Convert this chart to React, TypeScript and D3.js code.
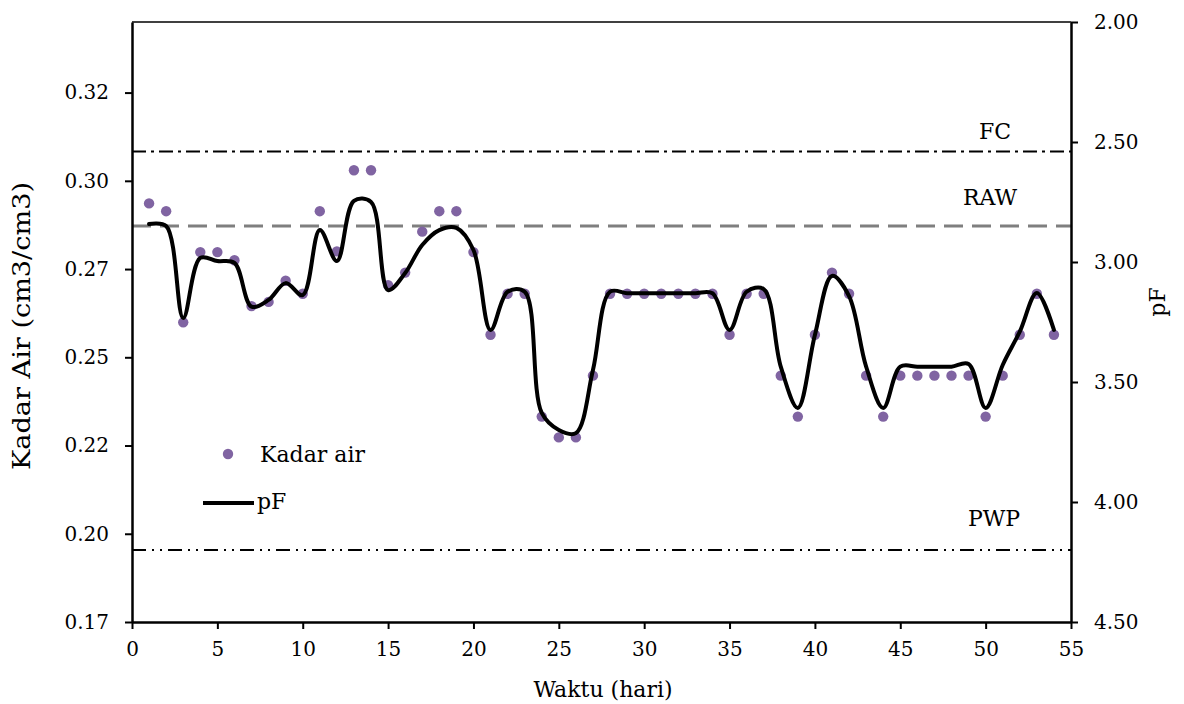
import { useEffect, useRef } from "react";
import * as d3 from "d3";

// hari ke-
const days = [
  1, 2, 3, 4, 5, 6, 7, 8, 9, 10, 11, 12, 13, 14, 15, 16, 17, 18, 19, 20,
  21, 22, 23, 24, 25, 26, 27, 28, 29, 30, 31, 32, 33, 34, 35, 36, 37, 38, 39, 40,
  41, 42, 43, 44, 45, 46, 47, 48, 49, 50, 51, 52, 53, 54,
];

// kadar air (cm3/cm3), sumbu kiri
const kadarAir = [
  0.2886, 0.2864, 0.2549, 0.2748, 0.2748, 0.2725, 0.2595, 0.2607, 0.2667, 0.263,
  0.2864, 0.275, 0.298, 0.298, 0.2654, 0.269, 0.2806, 0.2864, 0.2864, 0.2748,
  0.2514, 0.263, 0.263, 0.2282, 0.2223, 0.2223, 0.2398, 0.263, 0.263, 0.263,
  0.263, 0.263, 0.263, 0.263, 0.2514, 0.263, 0.263, 0.2398, 0.2282, 0.2514,
  0.269, 0.263, 0.2398, 0.2282, 0.2398, 0.2398, 0.2398, 0.2398, 0.2398, 0.2282,
  0.2398, 0.2514, 0.263, 0.2514,
];

// pF, sumbu kanan (terbalik)
const pF = [
  2.842, 2.85, 3.233, 2.983, 2.996, 3.004, 3.186, 3.158, 3.088, 3.138,
  2.867, 2.996, 2.745, 2.75, 3.117, 3.046, 2.929, 2.867, 2.858, 2.95,
  3.283, 3.124, 3.124, 3.629, 3.7, 3.713, 3.45, 3.124, 3.13, 3.13,
  3.13, 3.13, 3.13, 3.13, 3.283, 3.124, 3.113, 3.436, 3.608, 3.304,
  3.058, 3.142, 3.436, 3.608, 3.436, 3.436, 3.436, 3.436, 3.425, 3.608,
  3.429, 3.29, 3.129, 3.283,
];

// batas: FC, RAW, PWP (nilai pF)
const refNames = ["FC", "RAW", "PWP"];
const refValues = [2.54, 2.85, 4.2];

const leftTicks = [0.17, 0.195, 0.22, 0.245, 0.27, 0.295, 0.32];
const leftTickLabels = ["0.17", "0.20", "0.22", "0.25", "0.27", "0.30", "0.32"];
const rightTicks = [2.0, 2.5, 3.0, 3.5, 4.0, 4.5];
const xTicks = [0, 5, 10, 15, 20, 25, 30, 35, 40, 45, 50, 55];

const FONT = "'DejaVu Serif', serif";

export default function App() {
  const svgRef = useRef<SVGSVGElement | null>(null);

  useEffect(() => {
    if (!svgRef.current) return;
    const W = 1184;
    const H = 704;
    const left = 132, right = 1071, top = 22, bottom = 622;

    const svg = d3.select(svgRef.current);
    svg.selectAll("*").remove();
    svg.attr("width", W).attr("height", H);

    const x = d3.scaleLinear().domain([0, 55]).range([left, right]);
    const yL = d3.scaleLinear().domain([0.17, 0.34]).range([bottom, top]);
    const yR = d3.scaleLinear().domain([2, 4.5]).range([top, bottom]);

    svg.append("rect").attr("width", W).attr("height", H).attr("fill", "#fff");

    // top border
    svg.append("line")
      .attr("x1", left).attr("x2", right).attr("y1", top).attr("y2", top)
      .attr("stroke", "#000").attr("stroke-width", 1.5);

    // reference lines
    const dashes = ["14,5,3,5", "19,9", "14,6,2,6,2,6"];
    const colors = ["#000", "#7f7f7f", "#000"];
    const widths = [2, 3, 2];
    refValues.forEach((v, i) => {
      svg.append("line")
        .attr("x1", left).attr("x2", right)
        .attr("y1", yR(v)).attr("y2", yR(v))
        .attr("stroke", colors[i])
        .attr("stroke-width", widths[i])
        .attr("stroke-dasharray", dashes[i]);
    });

    const labelPos = [
      { x: 995, y: 131 },
      { x: 990, y: 197 },
      { x: 994, y: 518 },
    ];
    refNames.forEach((n, i) => {
      svg.append("text")
        .attr("x", labelPos[i].x).attr("y", labelPos[i].y)
        .attr("text-anchor", "middle").attr("dominant-baseline", "central")
        .attr("font-family", FONT).attr("font-size", 22)
        .text(n);
    });

    // kadar air dots
    svg.append("g")
      .selectAll("circle")
      .data(days)
      .enter()
      .append("circle")
      .attr("cx", (d) => x(d))
      .attr("cy", (_d, i) => yL(kadarAir[i]))
      .attr("r", 5.2)
      .attr("fill", "#8064a2");

    // pF line
    const line = d3.line<number>()
      .x((d) => x(d))
      .y((_d, i) => yR(pF[i]))
      .curve(d3.curveCatmullRom.alpha(0.5));
    svg.append("path")
      .attr("d", line(days))
      .attr("fill", "none")
      .attr("stroke", "#000")
      .attr("stroke-width", 4)
      .attr("stroke-linejoin", "round")
      .attr("stroke-linecap", "round");

    const styleAxis = (g: any) => {
      g.select(".domain").attr("stroke", "#000").attr("stroke-width", 2.5);
      g.selectAll(".tick line").attr("stroke", "#000").attr("stroke-width", 2);
      g.selectAll("text").attr("font-family", FONT).attr("font-size", 20).attr("fill", "#000");
    };

    svg.append("g")
      .attr("transform", `translate(${left},0)`)
      .call(
        d3.axisLeft(yL).tickValues(leftTicks)
          .tickFormat((_d: any, i: number) => leftTickLabels[i])
          .tickSize(7).tickSizeOuter(0).tickPadding(16)
      )
      .call(styleAxis);

    svg.append("g")
      .attr("transform", `translate(${right},0)`)
      .call(
        d3.axisRight(yR).tickValues(rightTicks)
          .tickFormat(d3.format(".2f") as any)
          .tickSize(7).tickSizeOuter(0).tickPadding(16)
      )
      .call(styleAxis);

    svg.append("g")
      .attr("transform", `translate(0,${bottom})`)
      .call(
        d3.axisBottom(x).tickValues(xTicks)
          .tickFormat(d3.format("d") as any)
          .tickSize(7).tickSizeOuter(0).tickPadding(13)
      )
      .call(styleAxis);

    // axis titles
    svg.append("text")
      .attr("transform", `translate(22,326) rotate(-90)`)
      .attr("text-anchor", "middle").attr("dominant-baseline", "central")
      .attr("font-family", FONT).attr("font-size", 24)
      .attr("textLength", 288).attr("lengthAdjust", "spacingAndGlyphs")
      .text("Kadar Air (cm3/cm3)");
    svg.append("text")
      .attr("transform", `translate(1157,302) rotate(-90)`)
      .attr("text-anchor", "middle").attr("dominant-baseline", "central")
      .attr("font-family", FONT).attr("font-size", 22)
      .text("pF");
    svg.append("text")
      .attr("x", 603).attr("y", 689)
      .attr("text-anchor", "middle").attr("dominant-baseline", "central")
      .attr("font-family", FONT).attr("font-size", 22)
      .text("Waktu (hari)");

    // legend
    svg.append("circle").attr("cx", 228).attr("cy", 454).attr("r", 5.2).attr("fill", "#8064a2");
    svg.append("text")
      .attr("x", 260).attr("y", 454).attr("dominant-baseline", "central")
      .attr("font-family", FONT).attr("font-size", 22)
      .text("Kadar air");
    svg.append("line")
      .attr("x1", 203).attr("x2", 254).attr("y1", 503).attr("y2", 503)
      .attr("stroke", "#000").attr("stroke-width", 4);
    svg.append("text")
      .attr("x", 257).attr("y", 501).attr("dominant-baseline", "central")
      .attr("font-family", FONT).attr("font-size", 22)
      .text("pF");
  }, []);

  return (
    <svg
      ref={svgRef}
      style={{ position: "absolute", left: 0, top: 0, display: "block" }}
    ></svg>
  );
}
